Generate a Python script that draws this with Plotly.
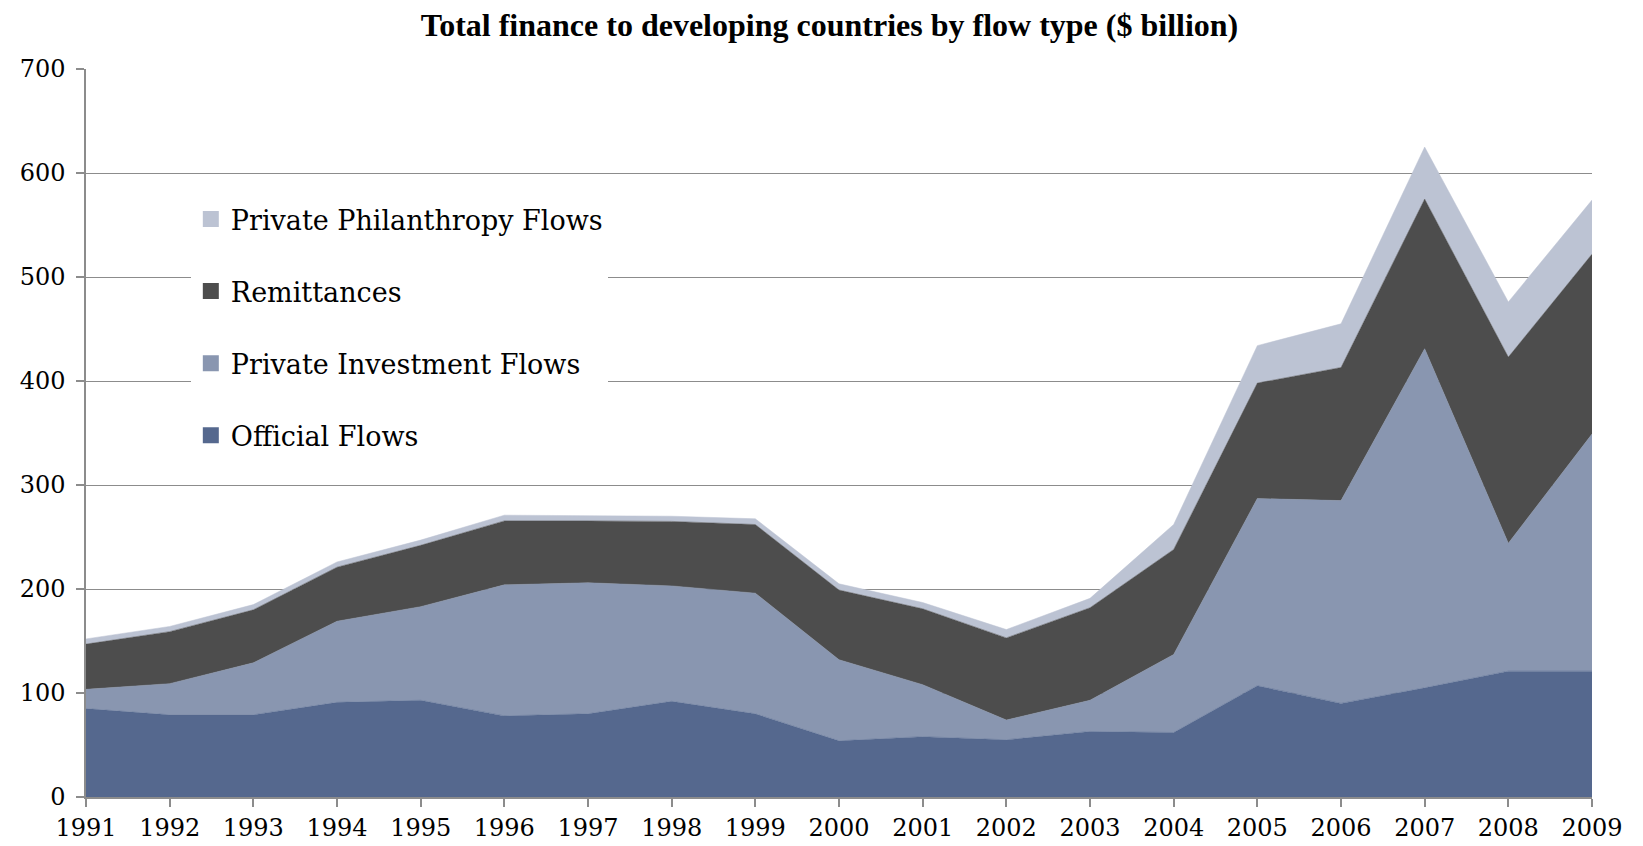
import plotly.graph_objects as go

years = list(range(1991, 2010))
official = [85, 79, 79, 91, 93, 78, 80, 92, 80, 54, 58, 55, 63, 62, 107, 90, 105, 121, 121]
private_investment = [18.5, 30, 50, 78, 90, 126, 126, 111, 116, 78, 50, 19, 30, 75, 180, 195, 326, 123, 228]
remittances = [43.5, 50, 51, 52, 59, 61.5, 59.5, 62, 66, 67, 73, 79, 89, 101, 111, 128, 144, 179, 173]
philanthropy = [5, 5, 5, 5, 5, 5.5, 5, 5, 5.5, 6, 6, 8, 9, 24, 36, 42, 50, 53, 52]

series = [
    ("Official Flows", official, "#55688E"),
    ("Private Investment Flows", private_investment, "#8996B0"),
    ("Remittances", remittances, "#4D4D4D"),
    ("Private Philanthropy Flows", philanthropy, "#BCC3D3"),
]

fig = go.Figure()
for name, vals, col in series:
    fig.add_trace(go.Scatter(
        x=years, y=vals, name=name, stackgroup="one", mode="lines",
        line=dict(width=0.5, color=col), fillcolor=col, showlegend=False,
        hoverinfo="x+y+name",
    ))

# legend entries (square swatches), top to bottom as in the reference
for i, (name, vals, col) in enumerate(reversed(series)):
    fig.add_trace(go.Scatter(
        x=[None], y=[None], name=name, mode="markers",
        marker=dict(symbol="square", size=17, color=col),
        legendgroup="g%d" % i, showlegend=True,
    ))

grid = "#8C8C8C"
L, R, T, B = 61, 59, 61, 51
W, H = 1643, 846
pw, ph = W - L - R, H - T - B
fig.update_layout(
    width=W, height=H,
    margin=dict(l=L, r=R, t=T, b=B),
    paper_bgcolor="white", plot_bgcolor="white",
    font=dict(family="DejaVu Serif", size=24, color="black"),
    title=dict(
        text="<b>Total finance to developing countries by flow type ($ billion)</b>",
        font=dict(family="Liberation Serif", size=32, color="black"),
        x=0.5, xanchor="center", xref="container",
        y=1 - 17 / H, yanchor="middle", yref="container",
    ),
    xaxis=dict(
        range=[1991, 2009], tickmode="linear", tick0=1991, dtick=1,
        showgrid=False, zeroline=False,
        showline=True, linecolor=grid, linewidth=1.5,
        ticks="outside", ticklen=8, tickcolor=grid, tickwidth=1.5,
        tickfont=dict(family="DejaVu Serif", size=24),
    ),
    yaxis=dict(
        range=[0, 700], tickmode="linear", tick0=0, dtick=100,
        showgrid=True, gridcolor=grid, gridwidth=1.2, zeroline=False,
        showline=True, linecolor=grid, linewidth=1.5,
        ticks="outside", ticklen=8, tickcolor=grid, tickwidth=1.5,
        tickfont=dict(family="DejaVu Serif", size=24),
        ticklabelstandoff=6,
    ),
    legend=dict(
        x=(167 - L) / pw, xanchor="left",
        y=(H - B - 188) / ph, yanchor="top",
        bgcolor="white", borderwidth=0,
        font=dict(family="DejaVu Serif", size=27, color="black"),
        traceorder="grouped", tracegroupgap=34,
        itemsizing="trace",
    ),
    showlegend=True,
    hovermode="x unified",
)

fig.write_html("out.html")
